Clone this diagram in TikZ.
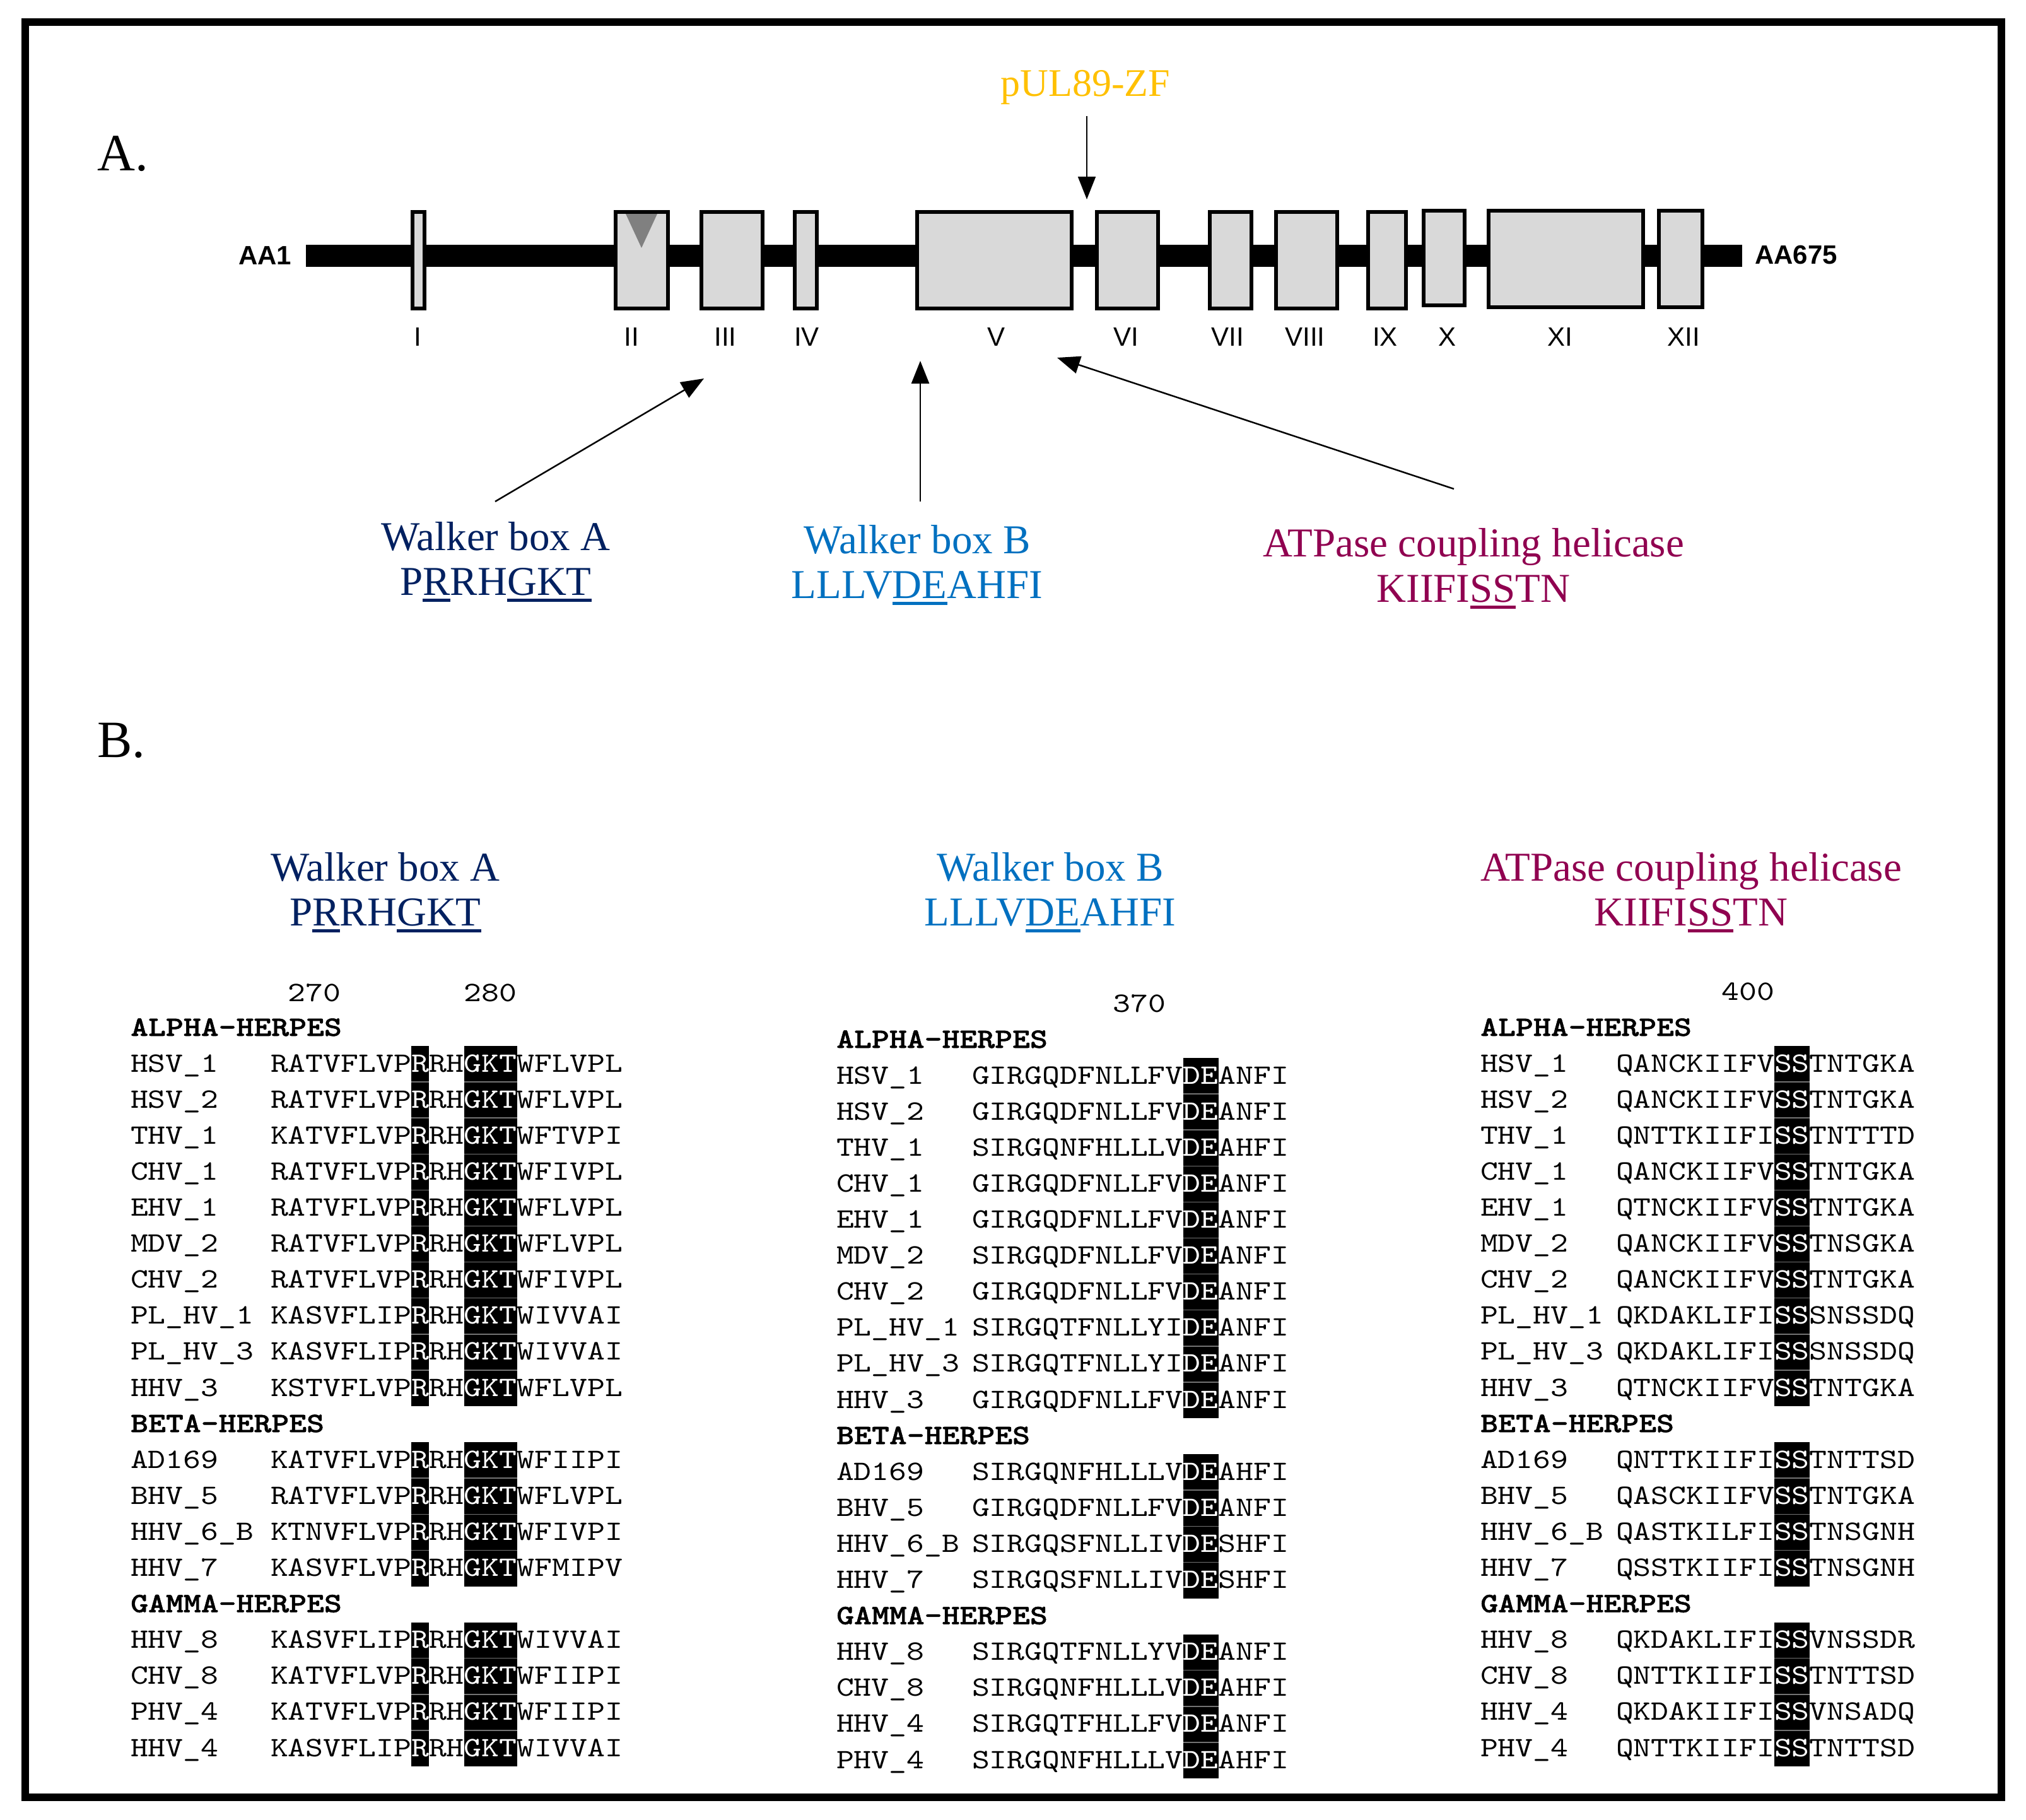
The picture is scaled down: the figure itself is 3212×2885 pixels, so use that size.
\documentclass[tikz,border=0pt]{standalone}
\usepackage{fontspec}
\usetikzlibrary{arrows.meta}
\newfontfamily\monof{lmmono10-regular}[Extension=.otf, BoldFont=lmmonolt10-bold, BoldFeatures={FakeBold=1.2}, FakeStretch=1.194]
\newfontfamily\serf{Liberation Serif}
\newfontfamily\sanf{Liberation Sans}
\definecolor{navy}{HTML}{002060}
\definecolor{wbblue}{HTML}{0070C0}
\definecolor{burg}{HTML}{900050}
\definecolor{ulgold}{HTML}{FFC000}
\definecolor{boxgray}{HTML}{D9D9D9}
\definecolor{trigray}{HTML}{808080}
\newcommand\W[1]{\textcolor{white}{#1}}
\newcommand\ulx[1]{\setbox0\hbox{#1}\rlap{\rule[-11pt]{\wd0}{5pt}}\box0}
\newcommand\seqf{\monof\fontsize{44.5}{50}\selectfont}
\newcommand\labf{\serf\fontsize{65}{72}\selectfont}
\begin{document}
\begin{tikzpicture}[x=1pt,y=-1pt,
  seqt/.style={font=\seqf, anchor=base west, inner sep=0pt, outer sep=0pt},
  hdrt/.style={font=\seqf\bfseries, anchor=base west, inner sep=0pt},
  numt/.style={font=\seqf, anchor=base, inner sep=0pt},
  labt/.style={font=\labf, anchor=base, inner sep=0pt},
  romt/.style={font=\sanf\fontsize{42}{46}\selectfont, anchor=base, inner sep=0pt},
  aat/.style={font=\sanf\bfseries\fontsize{42}{46}\selectfont, anchor=base west, inner sep=0pt},
  mbox/.style={draw=black, line width=6pt, fill=boxgray, inner sep=0pt, outer sep=0pt},
  arr/.style={-{Triangle[length=36pt,width=28pt]}, line width=2.5pt},
  rowsep/.style={draw=black!55, line width=1.5pt},
  panel/.style={font=\serf\fontsize{83}{90}\selectfont, anchor=base west, inner sep=0pt}]
\useasboundingbox (0,0) rectangle (3212,2885);
% outer frame
\draw[line width=12pt] (40,35) rectangle (3173,2849);

% ---------------- Part A ----------------
\node[panel] (lblA) at (154,270) {A.};
\coordinate (bbL) at (485,405.5);
\coordinate (bbR) at (2762,405.5);
\draw[line width=35pt] (bbL) -- (bbR);
\foreach \n/\xa/\xb/\ya/\yb in {1/651/676/333/492, 2/973/1062/333/492, 3/1109/1212/333/492,
    4/1257/1298/333/492, 5/1451/1702/333/492, 6/1736/1839/333/492, 7/1915/1987/333/492,
    8/2020/2123/333/492, 9/2166/2232/333/492, 10/2254/2325/331/487, 11/2357/2608/331/490,
    12/2627/2702/331/490}
  \node[mbox, minimum width={\xb-\xa-6}, minimum height={\yb-\ya-6}] (m\n) at ({(\xa+\xb)/2},{(\ya+\yb)/2}) {};
\fill[trigray] (992,339) -- (1042,339) -- (1017,393) -- cycle;
\node[aat] (aa1) at (378,419) {AA1};
\node[aat] (aa675) at (2782,418) {AA675};
\foreach \n/\x/\t in {1/662/I, 2/1001/II, 3/1150/III, 4/1279/IV, 5/1579/V, 6/1785/VI,
    7/1946/VII, 8/2069/VIII, 9/2196/IX, 10/2294/X, 11/2473/XI, 12/2669/XII}
  \node[romt] (r\n) at (\x,548) {\t};

\node[labt, text=ulgold, font=\serf\fontsize{62}{66}\selectfont] (pul) at (1721,153) {pUL89-ZF};
\coordinate (pulT) at (1723,184);
\coordinate (pulH) at (1723,316);
\draw[arr, line width=2pt] (pulT) -- (pulH);

\coordinate (waT) at (785,795);  \coordinate (waH) at (1116,600);
\coordinate (wbT) at (1459,795); \coordinate (wbH) at (1459,572);
\coordinate (atT) at (2305,775); \coordinate (atH) at (1676,567);
\draw[arr] (waT) -- (waH);
\draw[arr] (wbT) -- (wbH);
\draw[arr] (atT) -- (atH);

\node[labt, text=navy] (wa1) at (786,872) {Walker box A};
\node[labt, text=navy] (wa2) at (786,943) {P\ulx{R}RH\ulx{GKT}};
\node[labt, text=wbblue] (wb1) at (1454,877) {Walker box B};
\node[labt, text=wbblue] (wb2) at (1454,948) {LLLV\ulx{DE}AHFI};
\node[labt, text=burg] (at1) at (2336,882) {ATPase coupling helicase};
\node[labt, text=burg] (at2) at (2336,954) {KIIFI\ulx{SS}TN};

% ---------------- Part B ----------------
\node[panel] (lblB) at (154,1200) {B.};
\node[labt, text=navy] (bwa1) at (611,1396) {Walker box A};
\node[labt, text=navy] (bwa2) at (611,1467) {P\ulx{R}RH\ulx{GKT}};
\node[labt, text=wbblue] (bwb1) at (1665,1396) {Walker box B};
\node[labt, text=wbblue] (bwb2) at (1665,1467) {LLLV\ulx{DE}AHFI};
\node[labt, text=burg] (bat1) at (2681,1396) {ATPase coupling helicase};
\node[labt, text=burg] (bat2) at (2681,1467) {KIIFI\ulx{SS}TN};

% shaded columns
\foreach \a/\b in {1/10,12/15,17/20} {
  \pgfmathtruncatemacro\bb{\b-1}
  \fill ({429+8*27.9},{1642+\a*57.1-41}) rectangle ({429+9*27.9},{1642+\b*57.1+16});
  \fill ({429+11*27.9},{1642+\a*57.1-41}) rectangle ({429+14*27.9},{1642+\b*57.1+16});
  \fill ({1541+12*27.9},{1661+\a*57.1-41}) rectangle ({1541+14*27.9},{1661+\b*57.1+16});
  \fill ({2562+9*27.9},{1642+\a*57.1-41}) rectangle ({2562+11*27.9},{1642+\b*57.1+16});
  \foreach \r in {\a,...,\bb} {
    \draw[rowsep] ({429+8*27.9},{1642+\r*57.1+16}) -- ({429+9*27.9},{1642+\r*57.1+16});
    \draw[rowsep] ({429+11*27.9},{1642+\r*57.1+16}) -- ({429+14*27.9},{1642+\r*57.1+16});
    \draw[rowsep] ({1541+12*27.9},{1661+\r*57.1+16}) -- ({1541+14*27.9},{1661+\r*57.1+16});
    \draw[rowsep] ({2562+9*27.9},{1642+\r*57.1+16}) -- ({2562+11*27.9},{1642+\r*57.1+16});
  }
}

% position numbers
\node[numt] (n270) at ({429+2.5*27.9},1587) {270};
\node[numt] (n280) at ({429+12.5*27.9},1587) {280};
\node[numt] (n370) at ({1541+9.5*27.9},1604) {370};
\node[numt] (n400) at ({2562+7.5*27.9},1585) {400};

% group headers
\foreach \k/\h in {0/ALPHA-HERPES, 11/BETA-HERPES, 16/GAMMA-HERPES} {
  \node[hdrt] (LH\k) at (207,{1642+\k*57.1}) {\h};
  \node[hdrt] (MH\k) at (1326,{1661+\k*57.1}) {\h};
  \node[hdrt] (RH\k) at (2347,{1642+\k*57.1}) {\h};
}

% left column: Walker box A
\foreach \k/\nm/\qa/\qb in {1/HSV\_1/RATVFLVP/WFLVPL, 2/HSV\_2/RATVFLVP/WFLVPL,
    3/THV\_1/KATVFLVP/WFTVPI, 4/CHV\_1/RATVFLVP/WFIVPL, 5/EHV\_1/RATVFLVP/WFLVPL,
    6/MDV\_2/RATVFLVP/WFLVPL, 7/CHV\_2/RATVFLVP/WFIVPL, 8/PL\_HV\_1/KASVFLIP/WIVVAI,
    9/PL\_HV\_3/KASVFLIP/WIVVAI, 10/HHV\_3/KSTVFLVP/WFLVPL,
    12/AD169/KATVFLVP/WFIIPI, 13/BHV\_5/RATVFLVP/WFLVPL, 14/HHV\_6\_B/KTNVFLVP/WFIVPI,
    15/HHV\_7/KASVFLVP/WFMIPV,
    17/HHV\_8/KASVFLIP/WIVVAI, 18/CHV\_8/KATVFLVP/WFIIPI, 19/PHV\_4/KATVFLVP/WFIIPI,
    20/HHV\_4/KASVFLIP/WIVVAI} {
  \node[seqt] (LN\k) at (207,{1642+\k*57.1}) {\nm};
  \node[seqt] (LS\k) at (429,{1642+\k*57.1}) {\qa\W{R}RH\W{GKT}\qb};
}

% middle column: Walker box B
\foreach \k/\nm/\qa/\qb in {1/HSV\_1/GIRGQDFNLLFV/ANFI, 2/HSV\_2/GIRGQDFNLLFV/ANFI,
    3/THV\_1/SIRGQNFHLLLV/AHFI, 4/CHV\_1/GIRGQDFNLLFV/ANFI, 5/EHV\_1/GIRGQDFNLLFV/ANFI,
    6/MDV\_2/SIRGQDFNLLFV/ANFI, 7/CHV\_2/GIRGQDFNLLFV/ANFI, 8/PL\_HV\_1/SIRGQTFNLLYI/ANFI,
    9/PL\_HV\_3/SIRGQTFNLLYI/ANFI, 10/HHV\_3/GIRGQDFNLLFV/ANFI,
    12/AD169/SIRGQNFHLLLV/AHFI, 13/BHV\_5/GIRGQDFNLLFV/ANFI, 14/HHV\_6\_B/SIRGQSFNLLIV/SHFI,
    15/HHV\_7/SIRGQSFNLLIV/SHFI,
    17/HHV\_8/SIRGQTFNLLYV/ANFI, 18/CHV\_8/SIRGQNFHLLLV/AHFI, 19/HHV\_4/SIRGQTFHLLFV/ANFI,
    20/PHV\_4/SIRGQNFHLLLV/AHFI} {
  \node[seqt] (MN\k) at (1326,{1661+\k*57.1}) {\nm};
  \node[seqt] (MS\k) at (1541,{1661+\k*57.1}) {\qa\W{DE}\qb};
}

% right column: ATPase coupling helicase
\foreach \k/\nm/\qa/\qb in {1/HSV\_1/QANCKIIFV/TNTGKA, 2/HSV\_2/QANCKIIFV/TNTGKA,
    3/THV\_1/QNTTKIIFI/TNTTTD, 4/CHV\_1/QANCKIIFV/TNTGKA, 5/EHV\_1/QTNCKIIFV/TNTGKA,
    6/MDV\_2/QANCKIIFV/TNSGKA, 7/CHV\_2/QANCKIIFV/TNTGKA, 8/PL\_HV\_1/QKDAKLIFI/SNSSDQ,
    9/PL\_HV\_3/QKDAKLIFI/SNSSDQ, 10/HHV\_3/QTNCKIIFV/TNTGKA,
    12/AD169/QNTTKIIFI/TNTTSD, 13/BHV\_5/QASCKIIFV/TNTGKA, 14/HHV\_6\_B/QASTKILFI/TNSGNH,
    15/HHV\_7/QSSTKIIFI/TNSGNH,
    17/HHV\_8/QKDAKLIFI/VNSSDR, 18/CHV\_8/QNTTKIIFI/TNTTSD, 19/HHV\_4/QKDAKIIFI/VNSADQ,
    20/PHV\_4/QNTTKIIFI/TNTTSD} {
  \node[seqt] (RN\k) at (2347,{1642+\k*57.1}) {\nm};
  \node[seqt] (RS\k) at (2562,{1642+\k*57.1}) {\qa\W{SS}\qb};
}
\end{tikzpicture}
\end{document}
